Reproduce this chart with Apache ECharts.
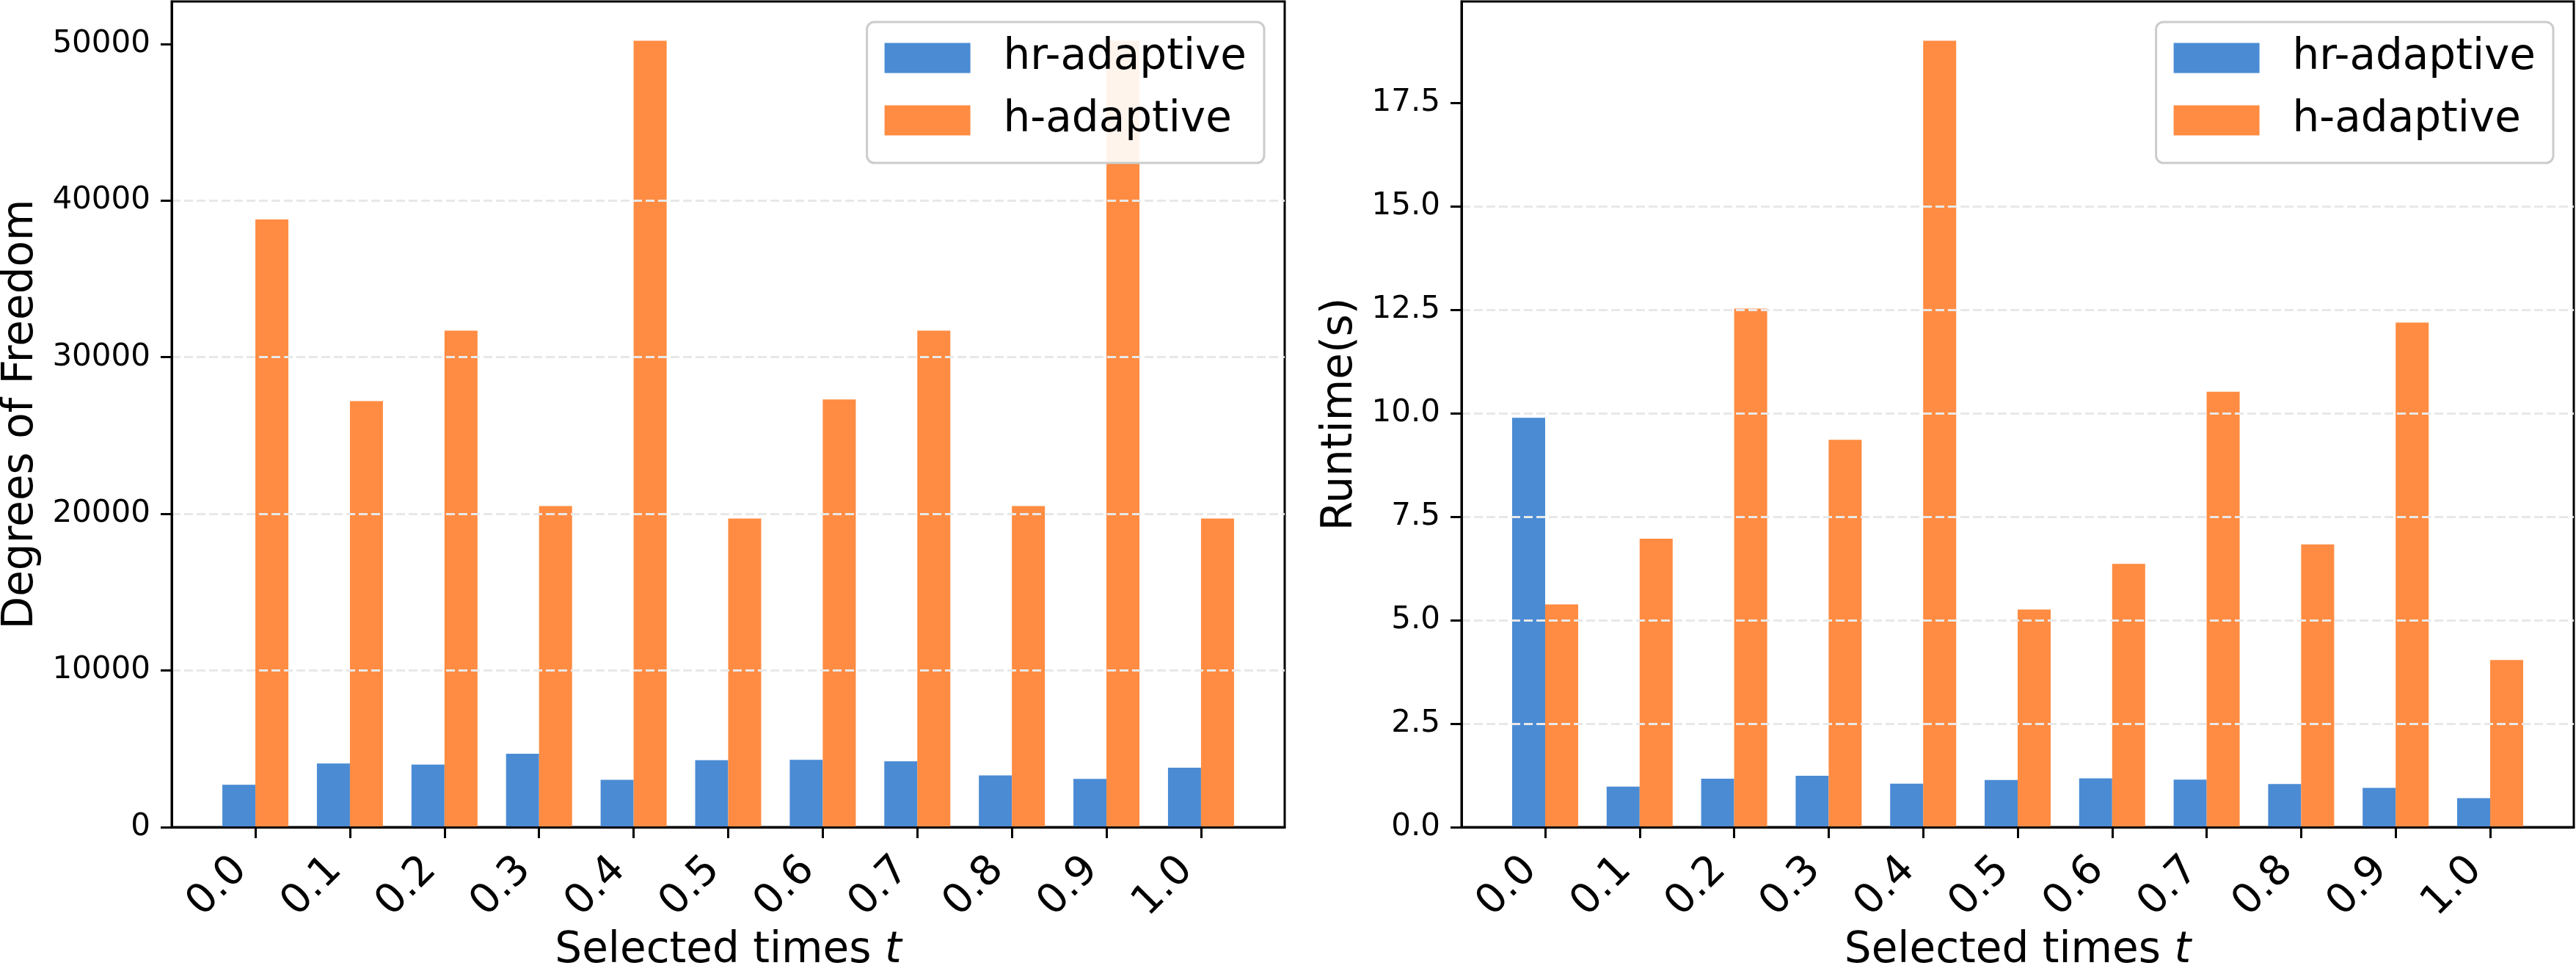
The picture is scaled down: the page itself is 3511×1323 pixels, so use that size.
<!DOCTYPE html>
<html>
<head>
<meta charset="utf-8">
<script src="https://cdn.jsdelivr.net/npm/echarts@6/dist/echarts.min.js"></script>
<style>
  html, body { margin: 0; padding: 0; background: #fff; }
  #chart { width: 3511px; height: 1323px; }
</style>
</head>
<body>
<div id="chart"></div>
<script>
// selected times t
const times = ['0.0', '0.1', '0.2', '0.3', '0.4', '0.5', '0.6', '0.7', '0.8', '0.9', '1.0'];
// degrees of freedom
const dofHr = [2700, 4070, 4000, 4690, 3020, 4270, 4300, 4210, 3300, 3080, 3800];
const dofH = [38800, 27200, 31700, 20500, 50200, 19700, 27300, 31700, 20500, 50200, 19700];
// runtime in seconds
const rtHr = [9.89, 0.98, 1.17, 1.24, 1.05, 1.14, 1.18, 1.15, 1.04, 0.95, 0.70];
const rtH = [5.38, 6.97, 12.53, 9.36, 19.0, 5.26, 6.36, 10.52, 6.83, 12.19, 4.04];
// y tick labels
const dofTicks = [0, 10000, 20000, 30000, 40000, 50000];
const rtTicks = [0, 2.5, 5, 7.5, 10, 12.5, 15, 17.5];

const names = ['hr-adaptive', 'h-adaptive'];
const colors = ['#4a8bd4', '#ff8c42'];
const font = 'DejaVu Sans';

const tVals = times.map(Number);
const pairs = (vals) => vals.map((v, i) => [tVals[i], v]);

const chart = echarts.init(document.getElementById('chart'));

const gridBase = {
  top: 2, height: 1125,
  show: true, borderColor: '#000', borderWidth: 3,
  outerBoundsMode: 'none', containLabel: false
};

// x axis is numeric so the bars sit where matplotlib put them
const xAxisFor = (gridIndex) => ({
  type: 'value', gridIndex: gridIndex,
  min: -0.0885, max: 1.0885,
  z: 10,
  axisLine: { show: true, onZero: false, lineStyle: { color: '#000', width: 3 } },
  axisTick: { show: true, length: 15, customValues: tVals, lineStyle: { color: '#000', width: 3 } },
  axisLabel: {
    customValues: tVals, rotate: 45, margin: 30,
    fontFamily: font, fontSize: 56, color: '#000',
    formatter: (v) => '{t|' + v.toFixed(1) + '}',
    rich: { t: { fontFamily: font, fontSize: 56, color: '#000', padding: [0, 28, 0, 0] } }
  },
  splitLine: { show: false },
  name: '{a|Selected times }{b|t}', nameLocation: 'middle', nameGap: 138,
  nameTextStyle: {
    fontFamily: font, fontSize: 58, color: '#000',
    rich: {
      a: { fontFamily: font, fontSize: 58, color: '#000' },
      b: { fontFamily: font, fontSize: 58, color: '#000', fontStyle: 'italic' }
    }
  }
});

const yAxisFor = (gridIndex, maxVal, ticks, fmt, title, gap) => ({
  type: 'value', gridIndex: gridIndex,
  min: 0, max: maxVal,
  z: 10,
  axisLine: { show: true, onZero: false, lineStyle: { color: '#000', width: 3 } },
  axisTick: { show: true, length: 15, customValues: ticks, lineStyle: { color: '#000', width: 3 } },
  axisLabel: { customValues: ticks, margin: 29, fontFamily: font, fontSize: 42, color: '#000', formatter: fmt },
  splitLine: {
    show: true, showMinLine: false, showMaxLine: false,
    lineStyle: { color: '#e8e8e8', width: 3, type: [12, 5] }
  },
  name: title, nameLocation: 'middle', nameGap: gap,
  nameTextStyle: { fontFamily: font, fontSize: 58, color: '#000' }
});

const legendFor = (right) => ({
  orient: 'vertical', right: right, top: 30,
  data: names,
  icon: 'rect', itemWidth: 117, itemHeight: 41, itemGap: 27,
  padding: [20, 24, 29, 24],
  backgroundColor: 'rgba(255,255,255,0.9)',
  borderColor: '#cccccc', borderWidth: 3, borderRadius: 10,
  textStyle: { fontFamily: font, fontSize: 58, lineHeight: 58, color: '#000', padding: [0, 0, 0, 40] },
  z: 20
});

const barSeries = (name, vals, idx, color) => ({
  name: name, type: 'bar',
  xAxisIndex: idx, yAxisIndex: idx,
  data: pairs(vals),
  barWidth: 45, barGap: '0%',
  itemStyle: { color: color },
  animation: false
});

const option = {
  backgroundColor: '#fff',
  animation: false,
  color: colors,
  grid: [
    Object.assign({ left: 234, width: 1517 }, gridBase),
    Object.assign({ left: 1992, width: 1516 }, gridBase)
  ],
  legend: [legendFor(3511 - 1723), legendFor(3511 - 3480)],
  xAxis: [xAxisFor(0), xAxisFor(1)],
  yAxis: [
    yAxisFor(0, Math.max(...dofH) * 1.05, dofTicks, (v) => String(v), 'Degrees of Freedom', 176),
    yAxisFor(1, Math.max(...rtH) * 1.05, rtTicks, (v) => v.toFixed(1), 'Runtime(s)', 136)
  ],
  series: [
    barSeries(names[0], dofHr, 0, colors[0]),
    barSeries(names[1], dofH, 0, colors[1]),
    barSeries(names[0], rtHr, 1, colors[0]),
    barSeries(names[1], rtH, 1, colors[1])
  ]
};

chart.setOption(option);
</script>
</body>
</html>
